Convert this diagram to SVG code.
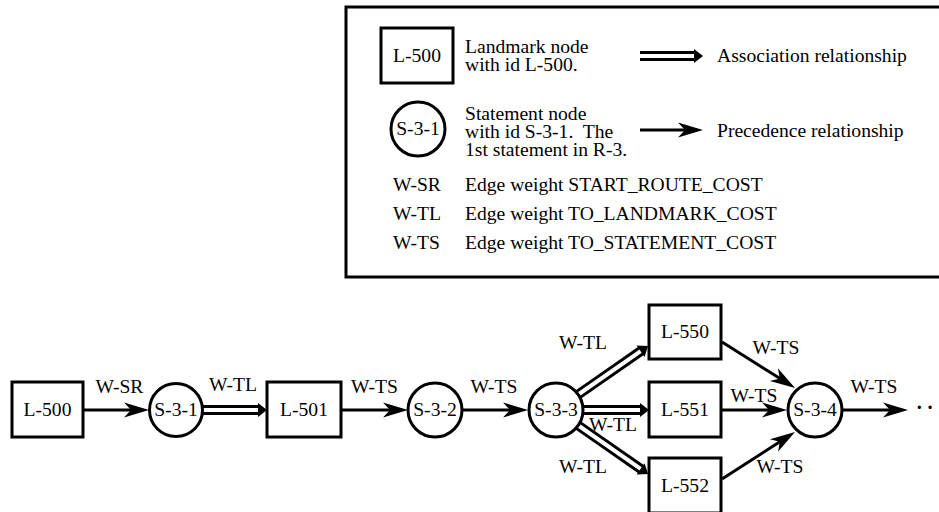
<svg xmlns="http://www.w3.org/2000/svg" width="939" height="512" viewBox="0 0 939 512">
<style>
text{font-family:"Liberation Serif","Times New Roman",serif;font-size:18.5px;fill:#000;transform-box:fill-box;transform-origin:left center;transform:scaleX(1.06)}
.c{text-anchor:middle;transform-origin:center}
.node{fill:#fff;stroke:#000;stroke-width:3}
.prec{stroke:#000;stroke-width:3;fill:none;marker-end:url(#stealth)}
.aout{stroke:#000;stroke-width:10;fill:none}
.ain{stroke:#fff;stroke-width:4;fill:none}
.ahead{fill:#000}
</style>
<defs>
<marker id="stealth" markerUnits="userSpaceOnUse" viewBox="-14 -10 28 20" refX="0" refY="0" markerWidth="28" markerHeight="20" orient="auto" overflow="visible">
<path d="M12,0 L-13,-7.5 L-6,0 L-13,7.5 Z" fill="#000"/>
</marker>
</defs>
<rect width="939" height="512" fill="#fff"/>
<g id="legend">
<rect x="346" y="7" width="640" height="270" fill="#fff" stroke="#000" stroke-width="3"/>
<rect class="node" x="381" y="28" width="72" height="55"/>
<text class="c" x="417" y="62">L-500</text>
<text x="465" y="53">Landmark node</text>
<text x="465" y="71">with id L-500.</text>
<path class="aout" d="M640,56 H695"/>
<path class="ain" d="M640,56 H695"/>
<path class="ahead" d="M694,49 L703,56 L694,63 Z"/>
<text x="717" y="62">Association relationship</text>
<circle class="node" cx="418" cy="129" r="27"/>
<text class="c" x="418" y="135">S-3-1</text>
<text x="465" y="120">Statement node</text>
<text x="465" y="138" xml:space="preserve">with id S-3-1.  The</text>
<text x="465" y="156">1st statement in R-3.</text>
<path class="prec" d="M640,130 H691"/>
<text x="717" y="137">Precedence relationship</text>
<text x="393" y="191">W-SR</text>
<text x="465" y="191">Edge weight START_ROUTE_COST</text>
<text x="393" y="220">W-TL</text>
<text x="465" y="220">Edge weight TO_LANDMARK_COST</text>
<text x="393" y="249">W-TS</text>
<text x="465" y="249">Edge weight TO_STATEMENT_COST</text>
</g>
<g id="connectors">
<path class="prec" d="M83,410 H137"/>
<path class="aout" d="M200,410 H259"/>
<path class="ain" d="M200,410 H259"/>
<path class="ahead" d="M258,403 L267,410 L258,417 Z"/>
<path class="prec" d="M341,410 H396"/>
<path class="prec" d="M462,410 H516"/>
<path class="aout" d="M575,410 H641"/>
<path class="ain" d="M575,410 H641"/>
<path class="ahead" d="M640,403 L649,410 L640,417 Z"/>
<path class="aout" d="M574,397.5 L641.4,350.6"/>
<path class="ain" d="M574,397.5 L641.4,350.6"/>
<path class="ahead" d="M644.6,356.9 L648,346 L636.6,345.4 Z"/>
<path class="aout" d="M574,422.5 L641.4,469.4"/>
<path class="ain" d="M574,422.5 L641.4,469.4"/>
<path class="ahead" d="M636.6,474.6 L648,474 L644.6,463.2 Z"/>
<path class="prec" d="M722,342 L784.9,381.6"/>
<path class="prec" d="M721,410 H775"/>
<path class="prec" d="M722,479 L784.9,438.5"/>
<path class="prec" d="M842,410 H896"/>
</g>
<g id="L-500"><rect class="node" x="12" y="382" width="71" height="55"/><text class="c" x="47.5" y="416.5">L-500</text></g>
<g id="S-3-1"><circle class="node" cx="176" cy="410" r="26.5"/><text class="c" x="176" y="416.5">S-3-1</text></g>
<g id="L-501"><rect class="node" x="267" y="382" width="74" height="55"/><text class="c" x="304" y="416.5">L-501</text></g>
<g id="S-3-2"><circle class="node" cx="435" cy="410" r="27"/><text class="c" x="435" y="416.5">S-3-2</text></g>
<g id="S-3-3"><circle class="node" cx="556" cy="410" r="27"/><text class="c" x="556" y="416.5">S-3-3</text></g>
<g id="L-550"><rect class="node" x="649" y="305" width="72" height="54"/><text class="c" x="685" y="338.5">L-550</text></g>
<g id="L-551"><rect class="node" x="649" y="382" width="72" height="55"/><text class="c" x="685" y="416.5">L-551</text></g>
<g id="L-552"><rect class="node" x="649" y="458" width="72" height="55"/><text class="c" x="685" y="492">L-552</text></g>
<g id="S-3-4"><circle class="node" cx="815" cy="410" r="27"/><text class="c" x="815" y="416.5">S-3-4</text></g>
<g id="labels">
<text class="c" x="119.5" y="393">W-SR</text>
<text class="c" x="233" y="391">W-TL</text>
<text class="c" x="374.5" y="393">W-TS</text>
<text class="c" x="494" y="393">W-TS</text>
<text class="c" x="583" y="349">W-TL</text>
<text class="c" x="613" y="431">W-TL</text>
<text class="c" x="583" y="473">W-TL</text>
<text class="c" x="776" y="354">W-TS</text>
<text class="c" x="754" y="402">W-TS</text>
<text class="c" x="780" y="473">W-TS</text>
<text class="c" x="874" y="393">W-TS</text>
<text x="916" y="414" style="font-weight:bold;font-size:20px;letter-spacing:4px;transform:none">··</text>
</g>
</svg>
